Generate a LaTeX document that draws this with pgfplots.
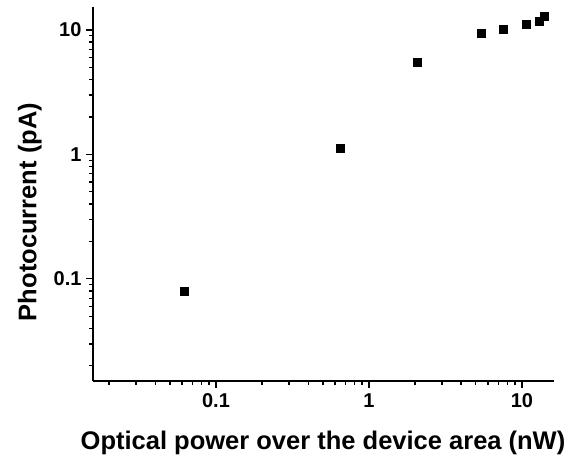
\documentclass[border=0pt]{standalone}
\usepackage{pgfplots}
\pgfplotsset{compat=1.18}
\usepackage{fontspec}
\setmainfont{Liberation Sans}
\newcommand{\ticksize}{\fontsize{20}{23}\selectfont\bfseries}

\begin{document}
\begin{tikzpicture}[x=1pt,y=1pt]
% fixed canvas around the axis box
\useasboundingbox (-93,-78) rectangle (478,381);
\begin{axis}[
  scale only axis,
  width=461pt, height=374pt,
  xmode=log, ymode=log,
  xmin=0.0157, xmax=16.2,
  ymin=0.0151, ymax=15.3,
  axis lines*=left,
  axis line style={line width=1.4pt},
  tick align=outside,
  major tick length=7pt,
  minor tick length=4pt,
  every tick/.style={line width=1.2pt, black},
  xtick={0.1,1,10}, ytick={0.1,1,10},
  xticklabels={0.1,1,10},
  yticklabels={0.1,1,10},
  minor xtick={0.02,0.03,0.04,0.05,0.06,0.07,0.08,0.09,0.2,0.3,0.4,0.5,0.6,0.7,0.8,0.9,2,3,4,5,6,7,8,9},
  minor ytick={0.02,0.03,0.04,0.05,0.06,0.07,0.08,0.09,0.2,0.3,0.4,0.5,0.6,0.7,0.8,0.9,2,3,4,5,6,7,8,9},
  /pgf/number format/assume math mode=true,
  xticklabel style={font=\ticksize, yshift=-2pt},
  yticklabel style={font=\ticksize, xshift=-1pt},
  xlabel={Optical power over the device area (nW)},
  ylabel={Photocurrent (pA)},
  label style={font=\fontsize{25.5}{30}\selectfont\bfseries},
  xlabel style={at={(axis description cs:0.499,-0.166)}, anchor=center},
  ylabel style={at={(axis description cs:-0.137,0.452)}, anchor=center, rotate=0},
  clip=false,
]
\addplot[only marks, mark=square*, mark size=4pt, black] coordinates {
  (0.0615,0.080)
  (0.653,1.12)
  (2.06,5.48)
  (5.4,9.37)
  (7.5,10.1)
  (10.7,11.1)
  (12.9,11.8)
  (13.9,13.0)
};
\end{axis}
\end{tikzpicture}
\end{document}
